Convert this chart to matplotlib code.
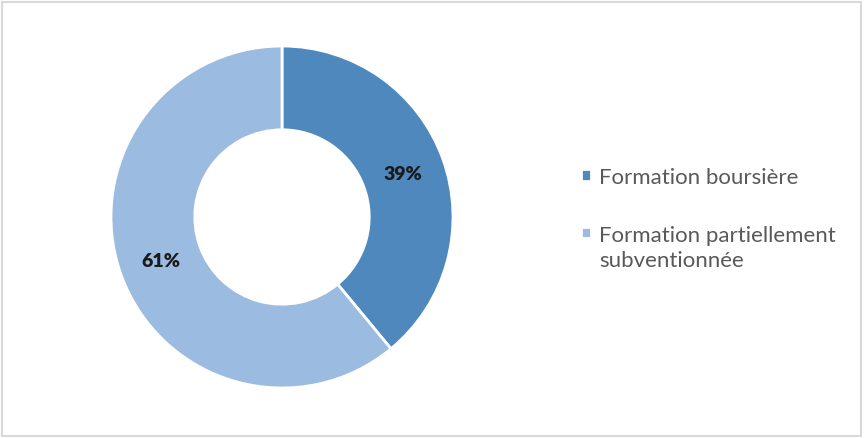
import matplotlib

matplotlib.use("Agg")
import matplotlib.pyplot as plt
from matplotlib.patches import Rectangle

labels = ["Formation boursière", "Formation partiellement\nsubventionnée"]
shares = [39, 61]
colors = ["#4f88bd", "#9bbbe0"]

plt.rcParams["font.family"] = ["Lato", "DejaVu Sans"]

W, H = 864, 439
fig = plt.figure(figsize=(W / 100, H / 100), dpi=100)
fig.patches.append(Rectangle((2 / W, 2 / H), 859 / W, 434 / H, transform=fig.transFigure,
                             fill=False, edgecolor="#d9d9d9", linewidth=1.5))

cx, cy, r = 282, 218, 171
ax = fig.add_axes([(cx - r) / W, (H - cy - r) / H, 2 * r / W, 2 * r / H])
wedges, _, autotexts = ax.pie(
    shares, colors=colors, startangle=90, counterclock=False, radius=1,
    autopct="%d%%", pctdistance=0.75,
    wedgeprops=dict(width=0.49, edgecolor="white", linewidth=2),
    textprops=dict(fontsize=14, fontweight="heavy", color="#1a1a1a"),
)
ax.set_xlim(-1, 1)
ax.set_ylim(-1, 1)
ax.axis("off")

leg = fig.legend(wedges, labels, loc="upper left", bbox_to_anchor=(570 / W, 1 - 157 / H),
                 frameon=False, fontsize=16, labelcolor="#595959", borderpad=0,
                 handlelength=0.45, handleheight=0.45, handletextpad=0.35, labelspacing=1.7)
for t in leg.get_texts():
    t.set_linespacing(1.35)
# put the marker of the two-line entry next to its first line
h = leg.legend_handles[1]
h.set_y(h.get_y() + 11)

fig.savefig("out.png", dpi=100)
